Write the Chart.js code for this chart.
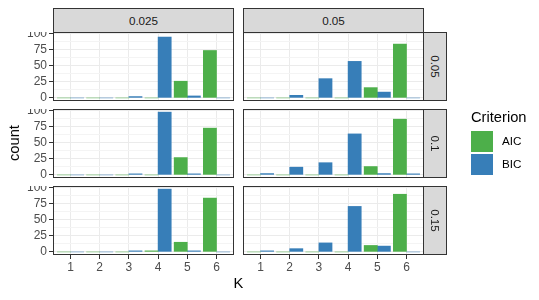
<!DOCTYPE html>
<html>
<head>
<meta charset="utf-8">
<script src="https://cdn.jsdelivr.net/npm/chart.js@4.4.0/dist/chart.umd.min.js"></script>
<style>
  body { margin: 0; background: #fff; font-family: "Liberation Sans", Arial, sans-serif; }
  #wrap { position: relative; width: 539px; height: 300px; overflow: hidden; }
  .panel { position: absolute; }
  .strip { position: absolute; background: #D9D9D9; border: 1px solid #333; box-sizing: border-box;
           color: #1A1A1A; font-size: 11.7px; display: flex; align-items: center; justify-content: center; }
  .strip.right span { transform: rotate(90deg); white-space: nowrap; }
  .title { position: absolute; color: #000; font-size: 14.7px; white-space: nowrap; }
  .key { position: absolute; width: 22px; height: 21px; }
  .keylab { position: absolute; font-size: 11.7px; color: #000; }
</style>
</head>
<body>
<div id="wrap"></div>
<script>
const kValues = [1, 2, 3, 4, 5, 6];
const colLabels = ["0.025", "0.05"];
const rowLabels = ["0.05", "0.1", "0.15"];
const yMajor = [0, 25, 50, 75, 100];
const yMinor = [12.5, 37.5, 62.5, 87.5];
const criteria = ["AIC", "BIC"];
const critColors = ["#4DAF4A", "#377EB8"];
const critFaint = ["rgba(77,175,74,0.3)", "rgba(55,126,184,0.3)"];

// counts per K, one array per facet and criterion
const aic_r1c1 = [0, 0, 0, 0, 26, 74];
const bic_r1c1 = [0, 0, 2, 95, 3, 0];
const aic_r1c2 = [0, 0, 0, 0, 16, 84];
const bic_r1c2 = [0, 4, 30, 57, 9, 0];
const aic_r2c1 = [0, 0, 0, 0, 27, 73];
const bic_r2c1 = [0, 0, 1, 98, 1, 0];
const aic_r2c2 = [0, 0, 0, 0, 13, 87];
const bic_r2c2 = [2, 12, 19, 64, 2, 1];
const aic_r3c1 = [0, 0, 0, 1, 15, 84];
const bic_r3c1 = [0, 0, 1, 98, 1, 0];
const aic_r3c2 = [0, 0, 0, 0, 10, 90];
const bic_r3c2 = [1, 5, 14, 71, 9, 0];

const panelData = [
  [[aic_r1c1, bic_r1c1], [aic_r1c2, bic_r1c2]],
  [[aic_r2c1, bic_r2c1], [aic_r2c2, bic_r2c2]],
  [[aic_r3c1, bic_r3c1], [aic_r3c2, bic_r3c2]],
];

// layout
const colX = [53, 243];
const rowY = [32, 109, 186];
const panelW = 181, panelH = 69;
const axisW = 40, axisH = 20;
const dodge = 0.225;
const font = { family: "'Liberation Sans', Arial, sans-serif", size: 12 };

const wrap = document.getElementById("wrap");

const panelBorder = {
  id: "panelBorder",
  afterDraw(chart) {
    const { ctx, chartArea: a } = chart;
    ctx.save();
    ctx.strokeStyle = "#333333";
    ctx.lineWidth = 1;
    ctx.strokeRect(a.left + 0.5, a.top + 0.5, a.right - a.left - 1, a.bottom - a.top - 1);
    ctx.restore();
  },
};

rowLabels.forEach((rl, r) => {
  colLabels.forEach((cl, c) => {
    const div = document.createElement("div");
    div.className = "panel";
    div.style.left = colX[c] - axisW + "px";
    div.style.top = rowY[r] + "px";
    const canvas = document.createElement("canvas");
    canvas.width = panelW + axisW;
    canvas.height = panelH + axisH;
    div.appendChild(canvas);
    wrap.appendChild(div);

    const showX = r === rowLabels.length - 1;
    const showY = c === 0;

    new Chart(canvas.getContext("2d"), {
      type: "bar",
      data: {
        datasets: criteria.map((name, j) => ({
          label: name,
          data: kValues.map((k, i) => ({ x: k + (j === 0 ? -dodge : dodge), y: panelData[r][c][j][i] })),
          backgroundColor: (ctx) => (ctx.raw && ctx.raw.y === 0 ? critFaint[j] : critColors[j]),
          borderWidth: 0,
          grouped: false,
          barPercentage: 1,
          categoryPercentage: 1,
          minBarLength: 1,
        })),
      },
      options: {
        responsive: false,
        animation: false,
        events: [],
        layout: { padding: 0, autoPadding: false },
        plugins: { legend: { display: false }, tooltip: { enabled: false } },
        scales: {
          x: {
            type: "linear",
            min: 0.4,
            max: 6.6,
            offset: false,
            afterBuildTicks: (s) => { s.ticks = kValues.map((v) => ({ value: v })); },
            afterFit: (s) => { s.height = axisH; s.paddingLeft = 0; s.paddingRight = 0; },
            ticks: { display: showX, font, color: "#4D4D4D", padding: 1, maxRotation: 0, autoSkip: false },
            grid: { offset: false, color: "#EBEBEB", lineWidth: 1, drawTicks: showX, tickLength: 4, tickColor: "#333333", tickWidth: 1 },
            border: { display: false },
          },
          y: {
            min: -4.9,
            max: 102.9,
            afterBuildTicks: (s) => {
              s.ticks = yMajor.concat(yMinor).sort((a, b) => a - b).map((v) => ({ value: v }));
            },
            afterFit: (s) => { s.width = axisW; s.paddingTop = 0; s.paddingBottom = 0; },
            ticks: {
              display: showY, font, color: "#4D4D4D", padding: 2, autoSkip: false,
              callback: (v) => (yMajor.includes(v) ? String(v) : ""),
            },
            grid: {
              color: (ctx) => (yMajor.includes(ctx.tick.value) ? "#EBEBEB" : "#F4F4F4"),
              lineWidth: 1,
              drawTicks: showY,
              tickLength: 4,
              tickColor: (ctx) => (yMajor.includes(ctx.tick.value) ? "#333333" : "rgba(0,0,0,0)"),
              tickWidth: 1,
            },
            border: { display: false },
          },
        },
      },
      plugins: [panelBorder],
    });
  });
});

// top strips
colLabels.forEach((cl, c) => {
  const s = document.createElement("div");
  s.className = "strip";
  s.style.left = colX[c] + "px";
  s.style.top = "8px";
  s.style.width = panelW + "px";
  s.style.height = rowY[0] - 8 + 1 + "px";
  s.textContent = cl;
  wrap.appendChild(s);
});

// right strips
rowLabels.forEach((rl, r) => {
  const s = document.createElement("div");
  s.className = "strip right";
  s.style.left = colX[1] + panelW - 1 + "px";
  s.style.top = rowY[r] + "px";
  s.style.width = "24px";
  s.style.height = panelH + "px";
  const sp = document.createElement("span");
  sp.textContent = rl;
  s.appendChild(sp);
  wrap.appendChild(s);
});

// axis titles
const yTitle = document.createElement("div");
yTitle.className = "title";
yTitle.textContent = "count";
yTitle.style.left = "14px";
yTitle.style.top = "143px";
yTitle.style.transform = "translate(-50%, -50%) rotate(-90deg)";
wrap.appendChild(yTitle);

const xTitle = document.createElement("div");
xTitle.className = "title";
xTitle.textContent = "K";
xTitle.style.left = "238.5px";
xTitle.style.top = "283px";
xTitle.style.transform = "translate(-50%, -50%)";
wrap.appendChild(xTitle);

// legend
const legTitle = document.createElement("div");
legTitle.className = "title";
legTitle.textContent = "Criterion";
legTitle.style.left = "471px";
legTitle.style.top = "109px";
wrap.appendChild(legTitle);

criteria.forEach((name, j) => {
  const k = document.createElement("div");
  k.className = "key";
  k.style.left = "471px";
  k.style.top = 131 + j * 23 + "px";
  k.style.background = critColors[j];
  wrap.appendChild(k);
  const l = document.createElement("div");
  l.className = "keylab";
  l.textContent = name;
  l.style.left = "502px";
  l.style.top = 134 + j * 23 + "px";
  wrap.appendChild(l);
});
</script>
</body>
</html>
